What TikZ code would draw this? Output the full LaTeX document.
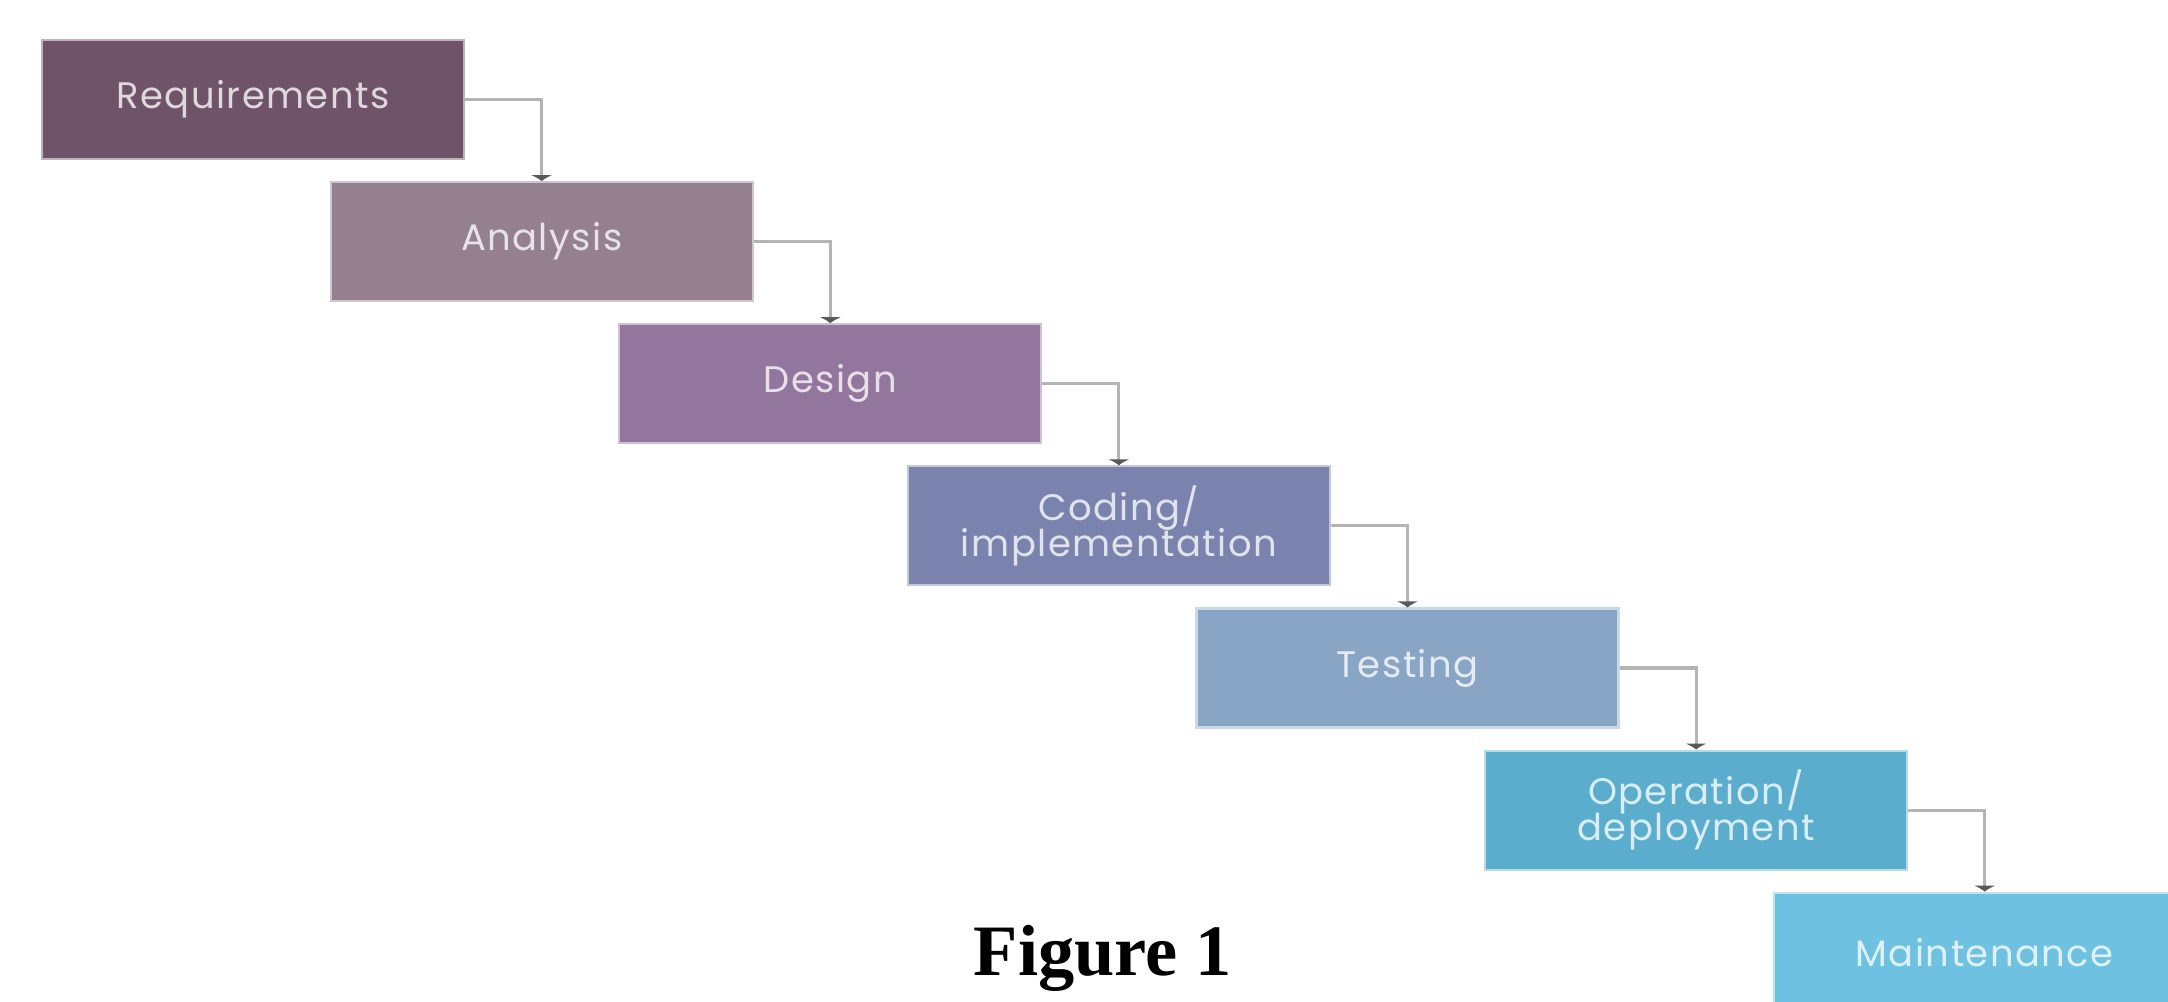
\documentclass[tikz,border=0pt]{standalone}
\usepackage{fontspec}
\setmainfont{Liberation Serif}
\newfontfamily\stagefont[LetterSpace=4]{Poppins}
\newcommand\stagesize{\fontsize{10.5}{10.1}\selectfont\lineskiplimit -10pt\relax}
\usepackage{tikz}
\usetikzlibrary{arrows.meta,positioning}
\definecolor{cReq}{HTML}{6F5369}
\definecolor{cAna}{HTML}{95808F}
\definecolor{cDes}{HTML}{93769E}
\definecolor{cCod}{HTML}{7A83AD}
\definecolor{cTes}{HTML}{89A5C5}
\definecolor{cOpe}{HTML}{5BADCE}
\definecolor{cMai}{HTML}{6EC1E0}
\definecolor{cLink}{HTML}{B4B4B4}

\begin{document}
\begin{tikzpicture}[
  font=\stagefont\stagesize,
  stage/.style={rectangle, fill=#1, draw=#1!45!white, line width=0.6pt,
    minimum width=4.22cm, minimum height=1.19cm, inner sep=0pt,
    align=center, text=white, text opacity=0.78},
  link/.style={-{Latex[length=0.06cm, width=0.22cm, color=black!65]}, draw=cLink, line width=0.9pt},
  gap/.style={below right=0.21cm and -1.355cm of #1}
]
\useasboundingbox (0,0) rectangle (21.68,-10.01);
\clip (0,0) rectangle (21.68,-10.01);
\node[stage=cReq, anchor=north west] (req) at (0.41,-0.39) {Requirements};
\node[stage=cAna, gap=req] (ana) {Analysis};
\node[stage=cDes, gap=ana] (des) {Design};
\node[stage=cCod, gap=des] (cod) {Coding/\\implementation};
\node[stage=cTes, gap=cod] (tes) {Testing};
\node[stage=cOpe, gap=tes] (ope) {Operation/\\deployment};
\node[stage=cMai, gap=ope] (mai) {Maintenance};
\draw[link] (req) -| (ana);
\draw[link] (ana) -| (des);
\draw[link] (des) -| (cod);
\draw[link] (cod) -| (tes);
\draw[link] (tes) -| (ope);
\draw[link] (ope) -| (mai);
\node[font=\fontsize{20.6}{24}\selectfont\bfseries, anchor=base] (cap) at (11.03,-9.75) {Figure 1};
\end{tikzpicture}
\end{document}
